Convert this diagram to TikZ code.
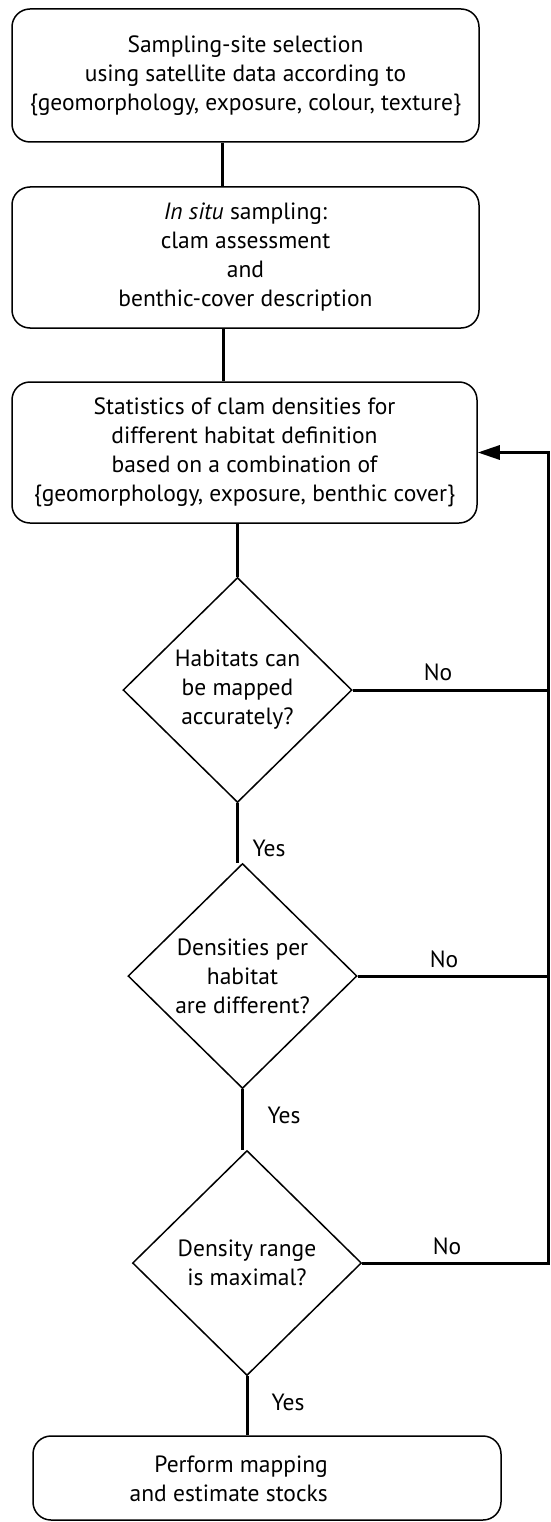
\documentclass[tikz,border=0pt]{standalone}
\usepackage{fontspec}
\setmainfont{PT Sans}
\usetikzlibrary{shapes.geometric}
\usetikzlibrary{arrows.meta}

\begin{document}
\begin{tikzpicture}[x=1pt, y=-1pt,
        box/.style={draw, line width=1.5pt, rounded corners=18pt, inner sep=0pt, align=center, font=\fontsize{23.5}{29}\selectfont},
        decision/.style={draw, diamond, line width=1.5pt, inner sep=0pt, minimum width=229pt, minimum height=225pt, align=center, font=\fontsize{23.5}{29}\selectfont},
        link/.style={line width=3pt},
        answer/.style={font=\fontsize{23.5}{29}\selectfont}]
        \useasboundingbox (0,0) rectangle (550,1522);

        % boxes
        \node[box, minimum width=467pt, minimum height=133pt] (selection) at (245.5,75.5) {Sampling-site selection\\ using satellite data according to\\ \{geomorphology, exposure, colour, texture\}};
        \node[box, minimum width=467pt, minimum height=141pt] (insitu) at (245.5,257.5) {\textit{In situ} sampling:\\ clam assessment\\ and\\ benthic-cover description};
        \node[box, minimum width=465pt, minimum height=141pt] (statistics) at (244.5,452.5) {Statistics of clam densities for\\ different habitat definition\\ based on a combination of\\ \{geomorphology, exposure, benthic cover\}};
        \node[box, minimum width=468pt, minimum height=84pt] (stocks) at (267,1478) {};
        \node[answer, align=right, anchor=east, inner sep=0pt] (stockstext) at (328,1479) {Perform mapping\\ and estimate stocks};

        % decisions
        \node[decision] (mapped) at (237.5,690) {Habitats can\\ be mapped\\ accurately?};
        \node[decision] (different) at (242.5,976) {Densities per\\ habitat\\ are different?};
        \node[decision] (maximal) at (247,1263) {Density range\\ is maximal?};

        % lines
        \draw[link] ([xshift=-23.5pt]selection.south) -- ([xshift=-23.5pt]insitu.north);
        \draw[link] ([xshift=-22.5pt]insitu.south) -- ([xshift=-21.5pt]statistics.north);
        \draw[link] (statistics.south -| mapped.north) -- (mapped.north);
        \draw[link] (mapped.south) -- (mapped.south |- different.north);
        \draw[link] (different.south) -- (different.south |- maximal.north);
        \draw[link] (maximal.south) -- (maximal.south |- stocks.north);

        % feedback
        \coordinate (back) at (548,1263);
        \draw[link] (mapped.east) -- (mapped.east -| back);
        \draw[link] (different.east) -- (different.east -| back);
        \draw[link, -{Triangle[length=22pt, width=14pt]}] (maximal.east) -- (back) |- (statistics.east);

        % labels
        \node[answer] (no1) at (438,672) {No};
        \node[answer] (no2) at (444,959) {No};
        \node[answer] (no3) at (447,1246) {No};
        \node[answer] (yes1) at (269,848) {Yes};
        \node[answer] (yes2) at (284,1115) {Yes};
        \node[answer] (yes3) at (288,1402) {Yes};
    \end{tikzpicture}
\end{document}
